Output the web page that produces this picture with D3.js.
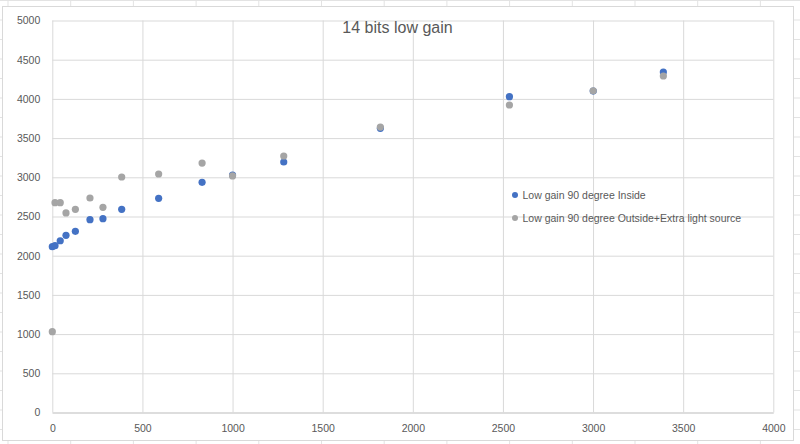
<!DOCTYPE html>
<html>
<head>
<meta charset="utf-8">
<script src="https://cdn.jsdelivr.net/npm/d3@7"></script>
<style>
  body { margin: 0; background: #fff; }
  text { font-family: "Liberation Sans", Arial, sans-serif; fill: #595959; }
</style>
</head>
<body>
<svg id="chart" width="800" height="444"></svg>
<script>
// data
const seriesNames = ['Low gain 90 degree Inside', 'Low gain 90 degree Outside+Extra light source']
const insideX  = [0, 15, 44, 76, 128, 209, 281, 385, 590, 831, 1000, 1284, 1820, 2536, 3001, 3390]
const insideY  = [2115, 2128, 2191, 2260, 2311, 2459, 2472, 2592, 2732, 2936, 3029, 3195, 3625, 4028, 4100, 4343]
const outsideX = [0, 15, 44, 76, 128, 209, 281, 385, 590, 831, 1000, 1284, 1820, 2536, 3001, 3390]
const outsideY = [1031, 2676, 2676, 2545, 2592, 2736, 2617, 3004, 3042, 3182, 3017, 3272, 3640, 3922, 4103, 4292]
const xTicks = [0, 500, 1000, 1500, 2000, 2500, 3000, 3500, 4000]
const yTicks = [0, 500, 1000, 1500, 2000, 2500, 3000, 3500, 4000, 4500, 5000]
const colors = ['#4472C4', '#A5A5A5']

const svg = d3.select('#chart')

// spreadsheet cells behind the chart
const sheet = svg.append('g').attr('stroke', '#e3e3e3').attr('stroke-width', 1)
sheet.selectAll('.row').data(d3.range(0, 444, 19.5)).join('line')
    .attr('x1', 0).attr('x2', 800).attr('y1', d => d + 0.5).attr('y2', d => d + 0.5)
sheet.selectAll('.col').data(d3.range(8, 800, 62.7)).join('line')
    .attr('x1', d => d).attr('x2', d => d).attr('y1', 0).attr('y2', 444)

// chart area
svg.append('rect')
    .attr('x', 2.5).attr('y', 6.5).attr('width', 791).attr('height', 434)
    .attr('fill', '#fff').attr('stroke', '#d9d9d9')

const xScale = d3.scaleLinear([0, 4000], [52.3, 773.3])
const yScale = d3.scaleLinear([0, 5000], [412.5, 20.5])
const plotW = xScale(4000) - xScale(0)
const plotH = yScale(0) - yScale(5000)
const fmt = d3.format('d')

// y grid + labels
const yAxis = d3.axisLeft(yScale).tickValues(yTicks).tickFormat(fmt)
    .tickSizeInner(-plotW).tickSizeOuter(0).tickPadding(12)
const yAxisDraw = svg.append('g').attr('transform', `translate(${xScale(0)},0)`).call(yAxis)
yAxisDraw.select('.domain').remove()
yAxisDraw.selectAll('line').attr('stroke', '#d9d9d9')
yAxisDraw.selectAll('text').style('font-size', '10.5px').attr('fill', '#595959')

// x grid + labels
const xAxis = d3.axisBottom(xScale).tickValues(xTicks).tickFormat(fmt)
    .tickSizeInner(-plotH).tickSizeOuter(0).tickPadding(12)
const xAxisDraw = svg.append('g').attr('transform', `translate(0,${yScale(0)})`).call(xAxis)
xAxisDraw.select('.domain').attr('stroke', '#d9d9d9').attr('stroke-width', 1.3)
xAxisDraw.selectAll('line').attr('stroke', '#d9d9d9')
xAxisDraw.selectAll('text').style('font-size', '10.5px').attr('fill', '#595959')

// title
svg.append('text')
    .attr('x', 397.5).attr('y', 33.3)
    .attr('text-anchor', 'middle')
    .style('font-size', '16px')
    .text('14 bits low gain')

// points, second series on top
const series = [
    insideX.map((x, i) => ({ x, y: insideY[i] })),
    outsideX.map((x, i) => ({ x, y: outsideY[i] }))
]
series.forEach((pts, s) => {
    svg.append('g').selectAll('circle').data(pts).join('circle')
        .attr('cx', d => xScale(d.x))
        .attr('cy', d => yScale(d.y))
        .attr('r', 3.6)
        .attr('fill', colors[s])
})

// legend
const legend = svg.append('g').attr('transform', 'translate(515,195)')
const item = legend.selectAll('g').data(seriesNames).join('g')
    .attr('transform', (d, i) => `translate(0,${i * 23})`)
item.append('circle').attr('r', 3).attr('fill', (d, i) => colors[i])
item.append('text').attr('x', 7.5).attr('y', 4.3)
    .style('font-size', '10.5px')
    .text(d => d)
</script>
</body>
</html>
